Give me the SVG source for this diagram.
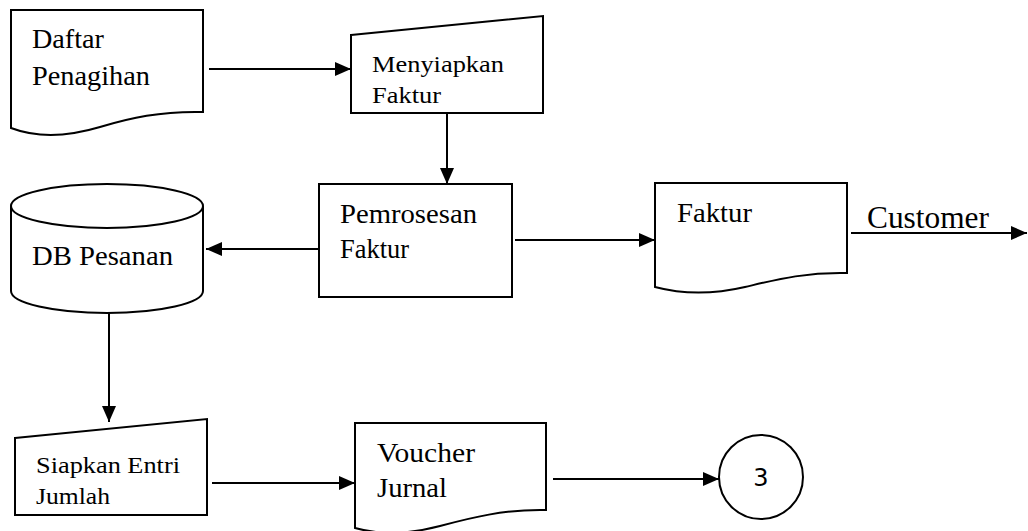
<svg xmlns="http://www.w3.org/2000/svg" width="1028" height="531" viewBox="0 0 1028 531">
<style>
.s{fill:#fff;stroke:#000;stroke-width:2}
.c{fill:none;stroke:#000;stroke-width:2}
.t{font-family:"Liberation Serif","Times New Roman",serif;fill:#000}
.n{font-family:"DejaVu Sans","Liberation Sans",sans-serif;fill:#000}
</style>
<defs>
<marker id="ah" markerUnits="userSpaceOnUse" markerWidth="16" markerHeight="14" refX="16" refY="7" orient="auto">
<path d="M0,0 L16,7 L0,14 Z" fill="#000"/>
</marker>
</defs>
<rect width="1028" height="531" fill="#fff"/>
<g id="connectors">
<line class="c" x1="209" y1="69" x2="351" y2="69" marker-end="url(#ah)"/>
<line class="c" x1="447" y1="113" x2="447" y2="184" marker-end="url(#ah)"/>
<line class="c" x1="319" y1="249" x2="206" y2="249" marker-end="url(#ah)"/>
<line class="c" x1="515" y1="240" x2="655" y2="240" marker-end="url(#ah)"/>
<line class="c" x1="851" y1="233" x2="1027" y2="233" marker-end="url(#ah)"/>
<line class="c" x1="109" y1="313" x2="109" y2="422" marker-end="url(#ah)"/>
<line class="c" x1="212" y1="483" x2="355" y2="483" marker-end="url(#ah)"/>
<line class="c" x1="553" y1="479" x2="719" y2="479" marker-end="url(#ah)"/>
</g>
<g id="daftar-penagihan">
<path class="s" d="M11,10 H203 V112 C160,111 130,118 100,127 C70,136 40,139 11,128 Z"/>
<text class="t" font-size="27" x="32" y="47.5" textLength="72" lengthAdjust="spacingAndGlyphs">Daftar</text>
<text class="t" font-size="27" x="32" y="85" textLength="118" lengthAdjust="spacingAndGlyphs">Penagihan</text>
</g>
<g id="menyiapkan-faktur">
<path class="s" d="M351,35 L543,16 L543,113 L351,113 Z"/>
<text class="t" font-size="24" x="372" y="71.5" textLength="132" lengthAdjust="spacingAndGlyphs">Menyiapkan</text>
<text class="t" font-size="24" x="372" y="103" textLength="69" lengthAdjust="spacingAndGlyphs">Faktur</text>
</g>
<g id="pemrosesan-faktur">
<rect class="s" x="319" y="184" width="193" height="113"/>
<text class="t" font-size="27" x="340" y="222.5" textLength="137" lengthAdjust="spacingAndGlyphs">Pemrosesan</text>
<text class="t" font-size="27" x="340" y="257.5" textLength="69" lengthAdjust="spacingAndGlyphs">Faktur</text>
</g>
<g id="db-pesanan">
<path class="s" d="M11,206 A96,22 0 0 1 203,206 V291 A96,22 0 0 1 11,291 Z"/>
<path class="c" d="M11,206 A96,22 0 0 0 203,206"/>
<text class="t" font-size="27" x="32" y="265" textLength="141" lengthAdjust="spacingAndGlyphs">DB Pesanan</text>
</g>
<g id="faktur">
<path class="s" d="M655,183 H847 V273 C805,272 775,280 745,287 C715,294 685,295 655,287 Z"/>
<text class="t" font-size="27" x="677" y="222" textLength="75" lengthAdjust="spacingAndGlyphs">Faktur</text>
</g>
<g id="customer">
<text class="t" font-size="31" x="867" y="228" textLength="122" lengthAdjust="spacingAndGlyphs">Customer</text>
</g>
<g id="siapkan-entri-jumlah">
<path class="s" d="M15,438 L207,419 L207,515 L15,515 Z"/>
<text class="t" font-size="24" x="36" y="473" textLength="144" lengthAdjust="spacingAndGlyphs">Siapkan Entri</text>
<text class="t" font-size="24" x="36" y="504" textLength="74" lengthAdjust="spacingAndGlyphs">Jumlah</text>
</g>
<g id="voucher-jurnal">
<path class="s" d="M355,423 H546 V510 C505,509 470,518 440,526 C410,534 380,535 355,528 Z"/>
<text class="t" font-size="27" x="377" y="462" textLength="98" lengthAdjust="spacingAndGlyphs">Voucher</text>
<text class="t" font-size="27" x="377" y="497" textLength="70" lengthAdjust="spacingAndGlyphs">Jurnal</text>
</g>
<g id="connector-3">
<circle class="s" cx="761" cy="477" r="42"/>
<text class="n" font-size="24" x="761" y="485.5" text-anchor="middle">3</text>
</g>
</svg>
